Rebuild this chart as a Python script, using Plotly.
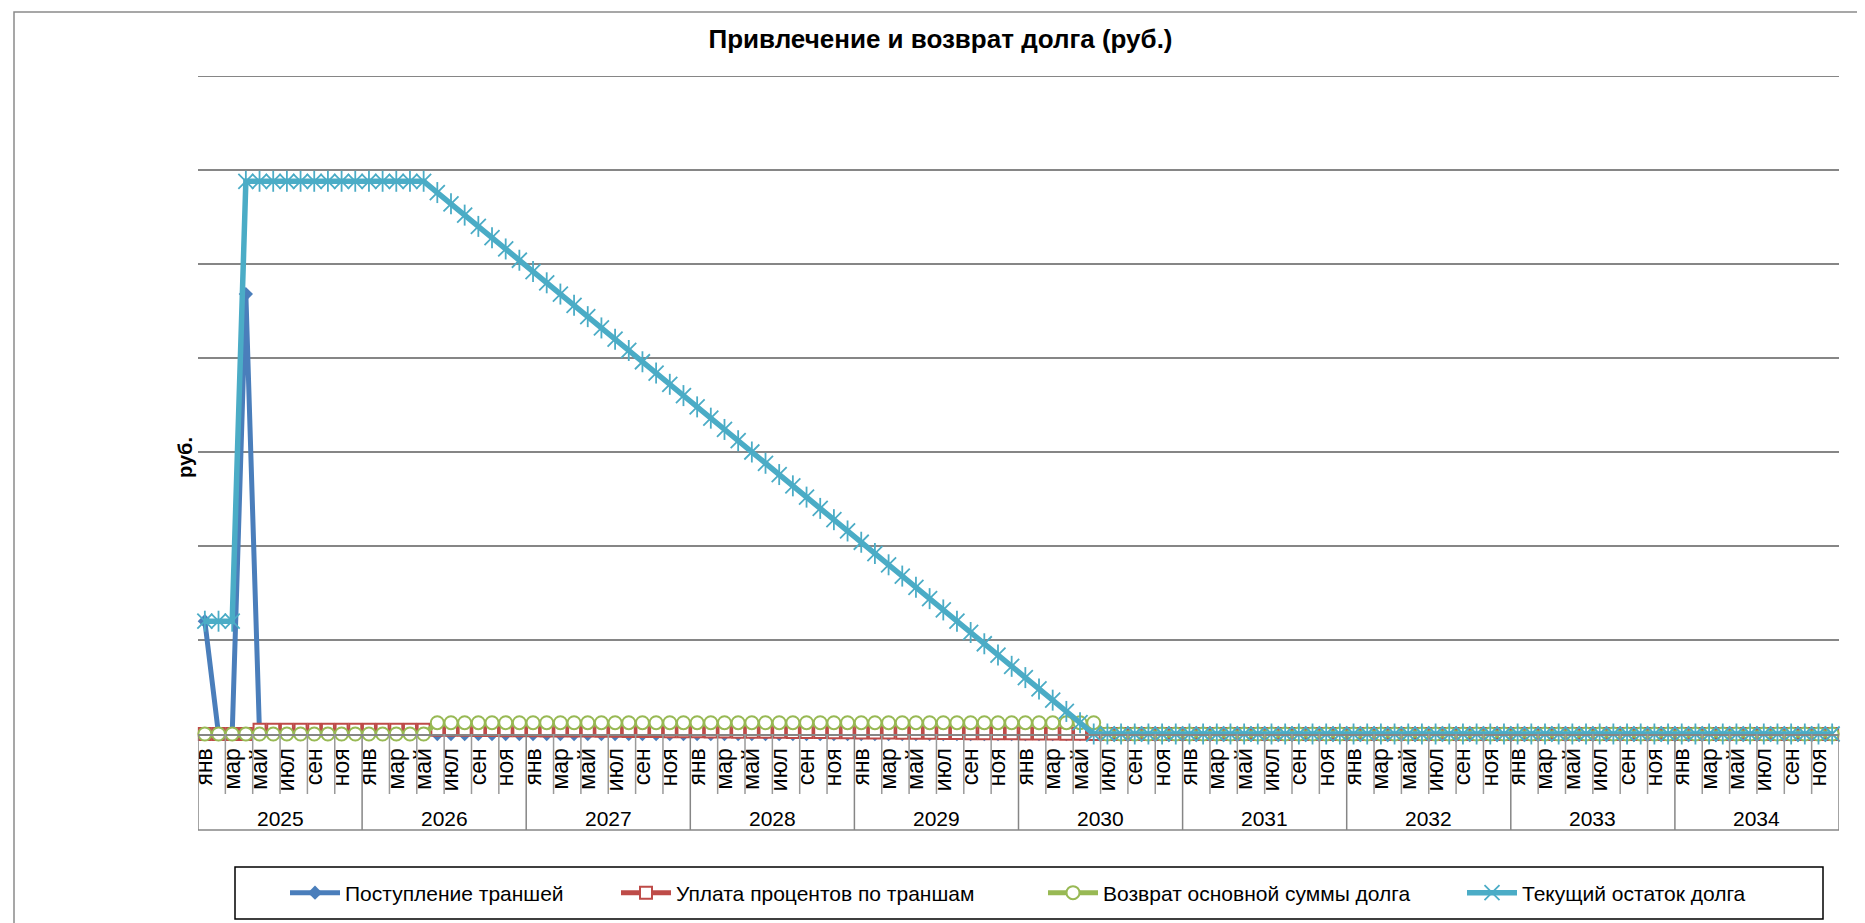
import plotly.graph_objects as go

# ---------------- data ----------------
years = ["2025", "2026", "2027", "2028", "2029", "2030", "2031", "2032", "2033", "2034"]
month_labels = ["янв", "", "мар", "", "май", "", "июл", "", "сен", "", "ноя", ""]

# Поступление траншей (by year, 12 months each)
tranches_2025 = [1.2, 0, 0, 4.68, 0, 0, 0, 0, 0, 0, 0, 0]
tranches_rest = [0] * 108

# Уплата процентов по траншам
interest_2025 = [0, 0, 0, 0, 0.046, 0.046, 0.046, 0.046, 0.046, 0.046, 0.046, 0.046]
interest_2026 = [0.046, 0.046, 0.046, 0.046, 0.046, 0.046, 0.045, 0.044, 0.043, 0.042, 0.041, 0.040]
interest_2027 = [0.039, 0.038, 0.038, 0.037, 0.036, 0.035, 0.034, 0.033, 0.032, 0.031, 0.030, 0.029]
interest_2028 = [0.028, 0.027, 0.026, 0.025, 0.024, 0.023, 0.023, 0.022, 0.021, 0.020, 0.019, 0.018]
interest_2029 = [0.017, 0.016, 0.015, 0.014, 0.013, 0.012, 0.011, 0.010, 0.009, 0.008, 0.008, 0.007]
interest_2030 = [0.006, 0.005, 0.004, 0.003, 0.002, 0.001, 0, 0, 0, 0, 0, 0]
interest_rest = [0] * 48

# Возврат основной суммы долга
principal_2025 = [0] * 12
principal_2026 = [0, 0, 0, 0, 0, 0.12, 0.12, 0.12, 0.12, 0.12, 0.12, 0.12]
principal_2027 = [0.12] * 12
principal_2028 = [0.12] * 12
principal_2029 = [0.12] * 12
principal_2030 = [0.12, 0.12, 0.12, 0.12, 0.12, 0.12, 0, 0, 0, 0, 0, 0]
principal_rest = [0] * 48

# Текущий остаток долга
balance_2025 = [1.2, 1.2, 1.2, 5.88, 5.88, 5.88, 5.88, 5.88, 5.88, 5.88, 5.88, 5.88]
balance_2026 = [5.88, 5.88, 5.88, 5.88, 5.88, 5.76, 5.64, 5.52, 5.40, 5.28, 5.16, 5.04]
balance_2027 = [4.92, 4.80, 4.68, 4.56, 4.44, 4.32, 4.20, 4.08, 3.96, 3.84, 3.72, 3.60]
balance_2028 = [3.48, 3.36, 3.24, 3.12, 3.00, 2.88, 2.76, 2.64, 2.52, 2.40, 2.28, 2.16]
balance_2029 = [2.04, 1.92, 1.80, 1.68, 1.56, 1.44, 1.32, 1.20, 1.08, 0.96, 0.84, 0.72]
balance_2030 = [0.60, 0.48, 0.36, 0.24, 0.12, 0, 0, 0, 0, 0, 0, 0]
balance_rest = [0] * 48

tranches = tranches_2025 + tranches_rest
interest = (interest_2025 + interest_2026 + interest_2027 + interest_2028
            + interest_2029 + interest_2030 + interest_rest)
principal = (principal_2025 + principal_2026 + principal_2027 + principal_2028
             + principal_2029 + principal_2030 + principal_rest)
balance = (balance_2025 + balance_2026 + balance_2027 + balance_2028
           + balance_2029 + balance_2030 + balance_rest)

n = len(balance)
x = list(range(n))
tick_idx = [i for i in range(n) if month_labels[i % 12]]
tick_txt = [month_labels[i % 12] for i in tick_idx]

# ---------------- layout geometry (pixels) ----------------
W, H = 1865, 923
PL, PR, PT, PB = 190, 1831, 68, 726
pw, ph = PR - PL, PB - PT
def px_x(p):
    return (p - PL) / pw
def px_y(p):
    return (PB - p) / ph

FONT = "Arial, Liberation Sans, sans-serif"
GRID = "#868686"
CYAN = "#4BACC6"

fig = go.Figure()

fig.add_trace(go.Scatter(
    x=x, y=tranches, name="Поступление траншей", mode="lines+markers",
    line=dict(color="#4A7EBB", width=5),
    marker=dict(symbol="diamond", size=11, color="#4A7EBB"),
    cliponaxis=False, legend="legend"))
fig.add_trace(go.Scatter(
    x=x, y=interest, name="Уплата процентов по траншам", mode="lines+markers",
    line=dict(color="#BE4B48", width=5),
    marker=dict(symbol="square", size=12, color="white",
                line=dict(color="#BE4B48", width=2)),
    cliponaxis=False, legend="legend2"))
fig.add_trace(go.Scatter(
    x=x, y=principal, name="Возврат основной суммы долга", mode="lines+markers",
    line=dict(color="#98B954", width=5),
    marker=dict(symbol="circle", size=13, color="white",
                line=dict(color="#98B954", width=2)),
    cliponaxis=False, legend="legend3"))
fig.add_trace(go.Scatter(
    x=x, y=balance, name="Текущий остаток долга", mode="lines+markers",
    line=dict(color=CYAN, width=5.5),
    marker=dict(symbol="x-thin-open", size=15, color=CYAN,
                line=dict(color=CYAN, width=1.8)),
    cliponaxis=False, legend="legend4"))
fig.add_trace(go.Scatter(
    x=x, y=balance, mode="markers", showlegend=False, hoverinfo="skip",
    marker=dict(symbol="line-ns-open", size=15, color=CYAN,
                line=dict(color=CYAN, width=1.8)),
    cliponaxis=False))

shapes = []
# outer chart border (only left/top visible)
shapes.append(dict(type="rect", xref="paper", yref="paper",
                   x0=px_x(6), x1=px_x(W + 10), y0=px_y(4), y1=px_y(H + 10),
                   line=dict(color="#8a8a8a", width=1.5)))
# top gridline
shapes.append(dict(type="line", xref="paper", yref="y", x0=0, x1=1, y0=7, y1=7,
                   line=dict(color=GRID, width=2), layer="below"))
# category separators
y_month = px_y(786)
y_year = px_y(822)
for b in range(0, n + 1, 2):
    xb = b - 0.5
    if b % 12 == 0:
        shapes.append(dict(type="line", xref="x", yref="paper", x0=xb, x1=xb,
                           y0=0, y1=y_year, line=dict(color=GRID, width=1.5)))
    else:
        shapes.append(dict(type="line", xref="x", yref="paper", x0=xb, x1=xb,
                           y0=0, y1=y_month, line=dict(color="#9a9a9a", width=1.5)))
shapes.append(dict(type="line", xref="x", yref="paper", x0=-0.5, x1=n - 0.5,
                   y0=y_year, y1=y_year, line=dict(color=GRID, width=1.5)))
# legend box
shapes.append(dict(type="rect", xref="paper", yref="paper",
                   x0=px_x(227), x1=px_x(1815), y0=px_y(859), y1=px_y(911),
                   line=dict(color="#000000", width=1.5)))

annotations = []
for i, yr in enumerate(years):
    annotations.append(dict(x=12 * i + 5.5, y=px_y(810), xref="x", yref="paper",
                            text=yr, showarrow=False, xanchor="center", yanchor="middle",
                            font=dict(family=FONT, size=21, color="#000")))
annotations.append(dict(x=px_x(177), y=px_y(450), xref="paper", yref="paper",
                        text="<b>руб.</b>", textangle=-90, showarrow=False,
                        xanchor="center", yanchor="middle",
                        font=dict(family=FONT, size=20, color="#000")))

ITEMW = 50
leg_common = dict(orientation="h", xref="container", yref="container",
                  yanchor="middle", xanchor="left", y=1 - 885 / H,
                  bgcolor="rgba(0,0,0,0)", borderwidth=0, itemwidth=ITEMW,
                  font=dict(family=FONT, size=21, color="#000"))
text_starts = [339, 670, 1097, 1516]
legs = {}
for k, name in enumerate(["legend", "legend2", "legend3", "legend4"]):
    d = dict(leg_common)
    d["x"] = (text_starts[k] - 42 - (ITEMW - 30)) / W
    legs[name] = d

fig.update_layout(
    width=W, height=H,
    paper_bgcolor="white", plot_bgcolor="white",
    margin=dict(l=PL, r=W - PR, t=PT, b=H - PB, autoexpand=False),
    font=dict(family=FONT, color="#000"),
    title=dict(text="<b>Привлечение и возврат долга (руб.)</b>",
               x=0.5, xref="container", xanchor="center",
               y=1 - 31 / H, yref="container", yanchor="middle",
               font=dict(family=FONT, size=26, color="#000")),
    xaxis=dict(range=[-0.5, n - 0.5], tickmode="array", tickvals=tick_idx,
               ticktext=tick_txt, tickangle=-90, ticks="", showgrid=False,
               zeroline=False, showline=True, linecolor=GRID, linewidth=2,
               tickfont=dict(family=FONT, size=23, color="#000"),
               ticklabelstandoff=3),
    yaxis=dict(range=[0, 7], dtick=1, showticklabels=False, ticks="",
               showgrid=True, gridcolor=GRID, gridwidth=2, zeroline=False,
               showline=False),
    shapes=shapes, annotations=annotations,
    **legs,
)

fig.write_html("out.html")
